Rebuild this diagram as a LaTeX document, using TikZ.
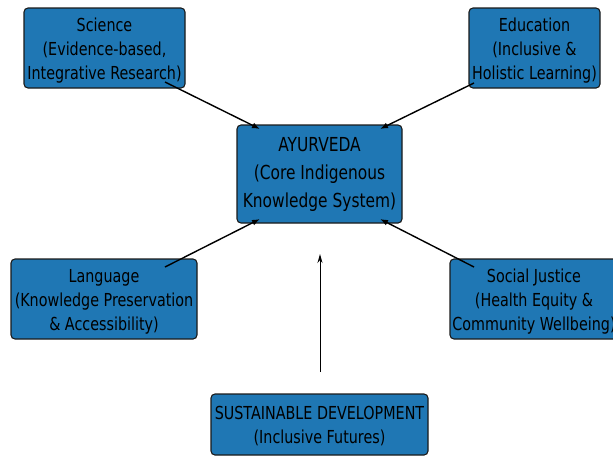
\documentclass[tikz,border=0pt]{standalone}
\usepackage{fontspec}
\setmainfont{DejaVu Sans}[FakeStretch=0.8]
\usetikzlibrary{arrows.meta}
\definecolor{boxblue}{HTML}{1F77B4}
\definecolor{edge}{HTML}{1A1A1A}
\tikzset{
  box/.style={draw=edge, line width=1.1pt, fill=boxblue, rounded corners=4pt,
    inner sep=0pt},
  txt/.style={inner sep=0pt, align=center, text=black},
  small/.style={txt, font=\fontsize{17.9}{24}\selectfont},
  big/.style={txt, font=\fontsize{19.3}{28}\selectfont},
  link/.style={line width=1.4pt, -{Latex[length=8pt,width=6pt]}},
  up/.style={line width=1pt, -{Stealth[length=9pt,width=5pt]}}
}
\begin{document}
\begin{tikzpicture}[x=1pt,y=-1pt]
\useasboundingbox (0,0) rectangle (613,456);
\clip (0,0) rectangle (613,456);
\node[box, minimum width=161pt, minimum height=80pt] (sci) at (104.5,48) {};
\node[small, yshift=-2.5pt] (scit) at (sci.center) {Science\\(Evidence-based,\\Integrative Research)};
\node[box, minimum width=131pt, minimum height=80pt] (edu) at (534.5,48) {};
\node[small, yshift=-2.5pt] (edut) at (edu.center) {Education\\(Inclusive \&\\Holistic Learning)};
\node[box, minimum width=165pt, minimum height=98pt] (ayu) at (319.5,174) {};
\node[big, yshift=-0.5pt] (ayut) at (ayu.center) {AYURVEDA\\(Core Indigenous\\Knowledge System)};
\node[box, minimum width=186pt, minimum height=80pt] (lang) at (104,299) {};
\node[small, yshift=-2.5pt] (langt) at (lang.center) {Language\\(Knowledge Preservation\\\& Accessibility)};
\node[box, minimum width=168pt, minimum height=80pt] (soc) at (534,299) {};
\node[small, yshift=-2.5pt] (soct) at (soc.center) {Social Justice\\(Health Equity \&\\Community Wellbeing)};
\node[box, minimum width=217pt, minimum height=61pt] (sus) at (319.5,424.5) {};
\node[small, yshift=-1.5pt] (sust) at (sus.center) {SUSTAINABLE DEVELOPMENT\\(Inclusive Futures)};
\coordinate (sciA) at (165,82);
\coordinate (ayuNW) at (260,129);
\coordinate (eduA) at (474,83);
\coordinate (ayuNE) at (380,129);
\coordinate (langA) at (165,267);
\coordinate (ayuSW) at (260,219);
\coordinate (socA) at (474,267);
\coordinate (ayuSE) at (380,219);
\coordinate (susA) at (320,372);
\coordinate (susB) at (320,254);
\draw[link] (sciA) -- (ayuNW);
\draw[link] (eduA) -- (ayuNE);
\draw[link] (langA) -- (ayuSW);
\draw[link] (socA) -- (ayuSE);
\draw[up] (susA) -- (susB);
\end{tikzpicture}
\end{document}
